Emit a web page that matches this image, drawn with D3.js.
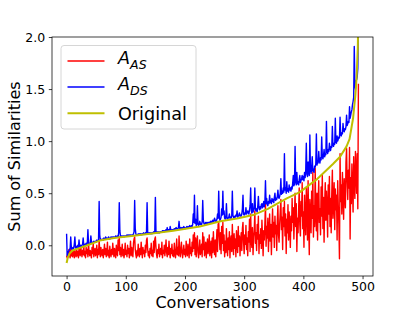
<!DOCTYPE html>
<html>
<head>
<meta charset="utf-8">
<script src="https://cdn.jsdelivr.net/npm/d3@7"></script>
<style>
    body { margin: 0; background: #fff; }
    svg text { font-family: "DejaVu Sans", sans-serif; fill: #000; }
</style>
</head>
<body>
<div id="chart"></div>
<script>
// Sum of similarities per conversation (index = conversation)
var aasVals = [
    -0.10,-0.12,-0.06,-0.11,-0.04,-0.09,-0.12,-0.03,-0.10,-0.07,-0.11,-0.02,-0.08,-0.12,-0.05,-0.09,-0.11,-0.04,-0.10,-0.06,
    -0.12,-0.03,-0.08,-0.10,-0.01,-0.07,-0.11,-0.05,-0.09,0.01,-0.10,-0.06,-0.12,-0.02,-0.08,-0.04,-0.11,0.03,-0.07,-0.10,
    -0.05,-0.09,-0.12,-0.02,-0.08,0.02,-0.11,-0.06,-0.03,-0.10,-0.07,0.00,-0.12,-0.04,-0.09,0.05,-0.06,-0.11,-0.02,-0.08,
    -0.10,-0.04,-0.12,-0.06,0.01,-0.09,-0.03,-0.11,-0.07,0.03,-0.10,-0.05,-0.12,-0.01,-0.08,-0.11,-0.04,-0.09,0.02,-0.06,
    -0.11,-0.03,-0.08,-0.12,0.00,-0.07,-0.10,0.05,-0.05,0.08,-0.09,-0.02,-0.11,-0.06,0.01,-0.10,-0.04,-0.12,-0.07,0.02,
    -0.09,-0.05,-0.11,0.00,-0.08,-0.03,-0.12,-0.06,0.04,-0.10,-0.02,-0.08,-0.11,0.02,0.06,0.08,-0.04,-0.09,-0.12,-0.05,
    -0.10,0.01,-0.07,-0.11,-0.03,-0.09,0.03,-0.06,-0.12,-0.02,-0.08,-0.05,-0.11,0.00,-0.07,0.05,0.07,-0.04,-0.10,-0.06,
    -0.12,-0.03,-0.08,0.02,-0.10,-0.05,-0.11,0.04,-0.07,0.06,0.08,-0.02,-0.09,-0.12,-0.04,-0.08,0.01,-0.11,-0.06,-0.03,
    -0.09,0.03,-0.12,-0.05,-0.08,0.00,-0.10,-0.04,0.05,-0.07,-0.11,-0.02,-0.09,0.04,-0.06,-0.12,-0.03,-0.08,0.01,-0.10,
    -0.05,-0.11,0.02,-0.07,-0.12,-0.04,0.06,-0.09,-0.02,-0.10,0.09,-0.06,-0.11,-0.03,0.03,-0.08,-0.12,-0.05,0.00,-0.09,
    -0.04,-0.11,0.04,-0.07,-0.10,0.01,-0.05,-0.12,0.06,-0.08,-0.02,-0.10,0.03,-0.06,0.10,-0.03,0.12,-0.09,0.07,-0.11,
    0.02,0.09,-0.07,-0.12,-0.03,0.05,-0.09,-0.05,0.01,-0.11,0.12,-0.04,0.08,-0.10,-0.06,0.03,-0.12,-0.02,0.06,-0.08,
    -0.03,0.10,-0.10,-0.05,0.04,-0.12,0.07,-0.07,0.13,-0.02,-0.09,0.05,-0.11,0.02,0.15,-0.06,0.20,0.22,0.08,-0.04,
    0.12,-0.08,0.18,0.02,0.22,-0.05,0.10,-0.11,0.04,-0.07,0.16,-0.02,-0.10,0.07,-0.04,0.13,-0.12,0.03,0.09,-0.06,
    0.20,0.01,-0.09,0.11,-0.03,0.06,-0.11,0.14,0.02,-0.07,0.18,-0.01,0.09,-0.10,0.04,0.12,-0.05,0.16,0.22,0.03,
    -0.08,0.10,0.01,0.19,-0.04,0.07,-0.10,0.13,0.03,0.25,-0.06,0.30,0.05,-0.02,0.17,-0.09,0.08,0.14,0.33,0.02,
    0.12,-0.05,0.20,0.06,0.28,-0.08,0.10,0.02,0.16,-0.03,0.24,0.09,-0.10,0.14,0.05,0.21,0.40,-0.01,0.18,0.07,
    0.26,-0.06,0.13,0.30,0.04,0.20,-0.09,0.16,0.35,0.08,0.22,-0.02,0.28,0.11,0.19,-0.05,0.24,0.38,0.10,0.03,
    0.21,0.33,0.44,0.15,0.27,-0.04,0.36,0.18,0.42,0.09,0.30,-0.08,0.25,0.12,0.39,0.05,0.32,0.20,-0.02,0.28,
    0.14,0.45,0.22,0.36,0.06,0.30,0.50,0.18,0.40,-0.06,0.26,0.12,0.34,0.55,0.20,0.09,0.42,0.28,0.60,0.16,
    0.32,-0.02,0.48,0.25,0.10,0.55,0.36,0.05,0.62,0.20,-0.09,0.44,0.30,0.12,0.52,0.26,0.70,0.08,0.38,0.18,
    0.74,0.30,0.14,0.50,0.05,0.42,0.62,0.22,0.35,0.10,0.56,0.28,0.68,0.16,0.46,0.03,0.40,0.60,0.24,0.52,
    0.36,0.08,0.58,0.30,0.66,0.18,0.45,0.12,0.50,0.72,0.26,0.40,0.60,0.15,0.54,0.34,0.48,0.05,0.62,0.38,
    0.20,-0.13,0.88,0.42,0.58,0.30,0.70,0.48,0.25,0.64,0.52,0.36,0.80,0.93,0.60,0.44,0.72,0.55,0.94,0.06,
    0.65,0.40,0.78,0.55,0.32,0.85,0.60,0.45,0.90,0.70,0.50,0.88,0.35,1.55
];

var adsVals = [
    0.11,-0.10,-0.08,-0.06,-0.05,-0.04,-0.03,0.08,-0.02,-0.04,-0.03,-0.02,-0.03,0.01,0.08,-0.02,-0.03,-0.01,-0.02,0.00,
    -0.02,0.05,-0.01,-0.02,0.00,-0.01,0.00,0.01,0.07,0.00,-0.01,0.01,0.00,0.02,0.01,0.02,0.15,0.03,0.01,0.02,
    0.02,0.09,0.03,0.02,0.03,0.02,0.04,0.03,0.03,0.04,0.03,0.05,0.04,0.04,0.06,0.42,0.10,0.05,0.06,0.05,
    0.05,0.06,0.05,0.07,0.06,0.06,0.08,0.06,0.07,0.06,0.07,0.08,0.07,0.06,0.07,0.08,0.07,0.08,0.07,0.08,
    0.08,0.07,0.08,0.09,0.08,0.08,0.09,0.08,0.12,0.41,0.14,0.09,0.08,0.09,0.08,0.09,0.09,0.08,0.09,0.09,
    0.09,0.09,0.10,0.09,0.10,0.09,0.10,0.09,0.10,0.10,0.09,0.10,0.10,0.11,0.13,0.43,0.16,0.11,0.10,0.10,
    0.10,0.11,0.10,0.11,0.10,0.11,0.11,0.10,0.11,0.11,0.12,0.11,0.11,0.12,0.11,0.13,0.41,0.12,0.11,0.12,
    0.12,0.11,0.12,0.12,0.11,0.12,0.12,0.13,0.12,0.13,0.46,0.14,0.12,0.12,0.13,0.12,0.13,0.12,0.13,0.13,
    0.13,0.13,0.14,0.13,0.14,0.13,0.14,0.14,0.15,0.14,0.17,0.14,0.15,0.14,0.14,0.18,0.15,0.14,0.15,0.15,
    0.15,0.15,0.16,0.15,0.16,0.17,0.16,0.15,0.16,0.17,0.23,0.16,0.16,0.17,0.16,0.17,0.16,0.17,0.18,0.17,
    0.17,0.16,0.17,0.18,0.17,0.18,0.17,0.18,0.19,0.18,0.18,0.19,0.18,0.20,0.30,0.22,0.48,0.21,0.25,0.19,
    0.20,0.38,0.21,0.19,0.20,0.23,0.20,0.21,0.20,0.22,0.43,0.24,0.21,0.20,0.21,0.22,0.21,0.22,0.21,0.22,
    0.22,0.21,0.22,0.23,0.22,0.23,0.22,0.24,0.23,0.24,0.26,0.23,0.24,0.23,0.25,0.30,0.26,0.52,0.28,0.24,
    0.25,0.27,0.35,0.29,0.52,0.30,0.33,0.26,0.25,0.26,0.40,0.27,0.25,0.26,0.27,0.30,0.26,0.27,0.26,0.28,
    0.52,0.29,0.27,0.26,0.28,0.27,0.29,0.28,0.33,0.27,0.28,0.29,0.31,0.28,0.29,0.28,0.30,0.35,0.48,0.30,
    0.29,0.31,0.30,0.36,0.30,0.31,0.33,0.32,0.30,0.34,0.38,0.55,0.33,0.31,0.40,0.32,0.34,0.36,0.55,0.34,
    0.33,0.35,0.32,0.38,0.47,0.36,0.34,0.37,0.35,0.39,0.40,0.36,0.38,0.42,0.37,0.41,0.62,0.40,0.45,0.39,
    0.38,0.42,0.40,0.48,0.41,0.43,0.40,0.45,0.42,0.44,0.41,0.46,0.50,0.43,0.45,0.44,0.47,0.53,0.46,0.45,
    0.47,0.50,0.64,0.49,0.52,0.50,0.55,0.51,0.88,0.53,0.55,0.50,0.61,0.52,0.54,0.51,0.58,0.53,0.55,0.52,
    0.56,0.54,0.60,0.67,0.57,0.59,0.95,0.62,0.58,0.70,0.59,0.61,0.58,0.63,0.67,0.60,0.62,0.64,0.67,0.63,
    0.66,0.62,0.70,0.65,0.72,0.98,0.68,0.66,0.80,0.70,0.67,1.06,0.72,0.69,0.74,0.85,0.71,0.73,0.70,0.76,
    0.75,0.78,1.07,0.77,0.80,0.79,0.90,0.81,0.79,0.84,0.82,1.04,0.85,0.83,0.86,0.92,0.85,0.88,0.87,1.19,
    0.90,0.88,0.92,0.90,0.98,0.93,0.91,0.95,0.94,1.14,0.96,0.95,0.98,0.97,1.22,0.99,0.98,1.05,1.00,1.02,
    1.04,1.03,1.23,1.06,1.05,1.08,1.07,1.17,1.10,1.09,1.12,1.11,1.14,1.25,1.15,1.17,1.19,1.18,1.33,1.22,
    1.25,1.28,1.30,1.35,1.38,1.42,1.91,1.55,1.50,1.58,1.59,1.62,1.70,2.10
];

// Original curve (sorted, smooth) read at these conversation indices
var origIdx = [0, 2, 5, 10, 20, 35, 56, 80, 110, 141, 180, 225, 260, 290, 315, 340, 372, 394, 422, 450, 462, 473, 478, 484, 488, 490, 492, 493];
var origVal = [-0.17, -0.12, -0.08, -0.05, -0.03, 0.00, 0.045, 0.07, 0.09, 0.11, 0.14, 0.18, 0.23, 0.26, 0.29, 0.35, 0.45, 0.51, 0.63, 0.78, 0.85, 0.95, 1.02, 1.22, 1.45, 1.62, 1.90, 2.30];

var xTicks = [0, 100, 200, 300, 400, 500];
var yTicks = [0.0, 0.5, 1.0, 1.5, 2.0];

var seriesNames = ["AAS", "ADS", "Original"];
var seriesColors = ["#ff0000", "#0000ff", "#bfbf00"];
var seriesWidths = [1.4, 1.4, 2.0];

var width = 415, height = 311;
var margin = { top: 37, right: 42, bottom: 35, left: 52 };
var innerW = width - margin.left - margin.right;
var innerH = height - margin.top - margin.bottom;

var svg = d3.select("#chart")
    .append("svg")
    .attr("width", width)
    .attr("height", height);

var g = svg.append("g")
    .attr("transform", "translate(" + margin.left + "," + margin.top + ")");

// Scales (matplotlib style 5% margins on x)
var x = d3.scaleLinear().domain([-24.65, 517.65]).range([0, innerW]);
var y = d3.scaleLinear().domain([-0.295, 2.0]).range([innerH, 0]);

g.append("clipPath")
    .attr("id", "plotClip")
    .append("rect")
    .attr("width", innerW)
    .attr("height", innerH);

var line = d3.line()
    .x(function(d) { return x(d[0]); })
    .y(function(d) { return y(d[1]); });

var aasData = aasVals.map(function(v, i) { return [i, v]; });
var adsData = adsVals.map(function(v, i) { return [i, v]; });
var origData = origIdx.map(function(v, i) { return [v, origVal[i]]; });

var plot = g.append("g").attr("clip-path", "url(#plotClip)");

[aasData, adsData, origData].forEach(function(data, k) {
    plot.append("path")
        .datum(data)
        .attr("d", line)
        .attr("fill", "none")
        .attr("stroke", seriesColors[k])
        .attr("stroke-width", seriesWidths[k])
        .attr("stroke-linejoin", "round");
});

// Axes
var xAxis = g.append("g")
    .attr("transform", "translate(0," + innerH + ")")
    .call(d3.axisBottom(x).tickValues(xTicks).tickFormat(d3.format("d"))
        .tickSize(3.2).tickPadding(3.2).tickSizeOuter(0));

var yAxis = g.append("g")
    .call(d3.axisLeft(y).tickValues(yTicks).tickFormat(d3.format(".1f"))
        .tickSize(3.2).tickPadding(3.6).tickSizeOuter(0));

[xAxis, yAxis].forEach(function(ax) {
    ax.select(".domain").remove();
    ax.selectAll("line").attr("stroke", "#000").attr("stroke-width", 0.75);
    ax.selectAll("text")
        .style("font-family", "'DejaVu Sans', sans-serif")
        .style("font-size", "12.5px")
        .attr("fill", "#000");
});

// Spines
g.append("rect")
    .attr("width", innerW)
    .attr("height", innerH)
    .attr("fill", "none")
    .attr("stroke", "#000")
    .attr("stroke-width", 0.75);

// Axis labels
svg.append("text")
    .attr("x", margin.left + innerW / 2)
    .attr("y", 308)
    .attr("text-anchor", "middle")
    .style("font-size", "16px")
    .text("Conversations");

svg.append("text")
    .attr("transform", "translate(20," + (margin.top + innerH / 2) + ") rotate(-90)")
    .attr("text-anchor", "middle")
    .style("font-size", "16px")
    .text("Sum of Similarities");

// Legend
var legend = svg.append("g");

legend.append("rect")
    .attr("x", 61)
    .attr("y", 45.5)
    .attr("width", 135)
    .attr("height", 83.5)
    .attr("rx", 3)
    .attr("fill", "#fff")
    .attr("fill-opacity", 0.8)
    .attr("stroke", "#cccccc")
    .attr("stroke-width", 0.8);

var rowY = [61, 87, 113.3];

seriesNames.forEach(function(name, k) {
    legend.append("line")
        .attr("x1", 67.5)
        .attr("x2", 104.5)
        .attr("y1", rowY[k])
        .attr("y2", rowY[k])
        .attr("stroke", seriesColors[k])
        .attr("stroke-width", seriesWidths[k]);

    var t = legend.append("text")
        .attr("x", 118)
        .style("font-size", "17.6px");

    if (name === "Original") {
        t.attr("y", rowY[k] + 6.2).text("Original");
    } else {
        t.attr("y", rowY[k] + 3.4);
        t.append("tspan").style("font-style", "italic").text("A");
        t.append("tspan")
            .attr("dy", 4.2)
            .style("font-style", "italic")
            .style("font-size", "12.6px")
            .text(name.slice(1));
    }
});
</script>
</body>
</html>
